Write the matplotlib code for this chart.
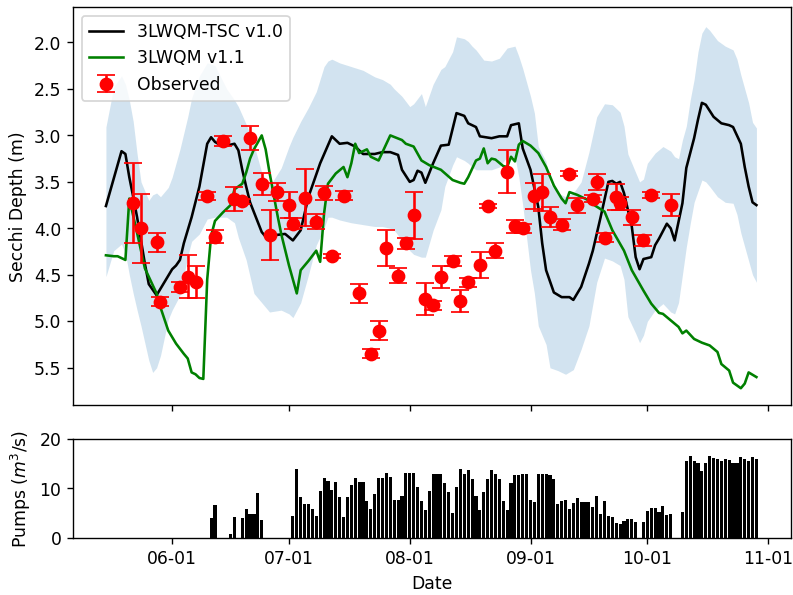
import numpy as np
import pandas as pd
import matplotlib
matplotlib.use("Agg")
import matplotlib.pyplot as plt
import matplotlib.dates as mdates

YEAR = "2019-"

# 3LWQM-TSC v1.0 (black)
tsc_days = ["05-15", "05-19", "05-20", "05-21", "05-22", "05-23", "05-24", "05-25", "05-26", "05-28",
            "05-29", "05-31", "06-01", "06-02", "06-03", "06-04", "06-06", "06-08", "06-10", "06-11",
            "06-12", "06-14", "06-16", "06-17", "06-18", "06-19", "06-20", "06-21", "06-24", "06-25",
            "06-28", "06-30", "07-02", "07-04", "07-06", "07-09", "07-12", "07-14", "07-16", "07-18",
            "07-20", "07-23", "07-25", "07-27", "07-29", "07-30", "08-01", "08-02", "08-03", "08-04",
            "08-05", "08-07", "08-09", "08-11", "08-13", "08-15", "08-16", "08-18", "08-19", "08-22",
            "08-24", "08-26", "08-27", "08-29", "08-30", "09-01", "09-03", "09-04", "09-05", "09-07",
            "09-09", "09-11", "09-12", "09-14", "09-16", "09-17", "09-19", "09-21", "09-22", "09-23",
            "09-24", "09-25", "09-27", "09-28", "09-29", "09-30", "10-02", "10-03", "10-04", "10-06",
            "10-07", "10-08", "10-10", "10-11", "10-13", "10-14", "10-15", "10-16", "10-18", "10-20",
            "10-22", "10-23", "10-25", "10-26", "10-27", "10-28", "10-29"]
tsc_vals = [3.76, 3.17, 3.20, 3.45, 3.66, 3.88, 4.13, 4.38, 4.60, 4.72,
            4.65, 4.51, 4.44, 4.40, 4.34, 4.16, 3.88, 3.55, 3.09, 3.02,
            3.07, 3.12, 3.10, 3.09, 3.16, 3.37, 3.55, 3.72, 4.04, 4.09,
            4.07, 4.06, 4.13, 4.02, 3.66, 3.30, 3.01, 3.09, 3.08, 3.12,
            3.20, 3.20, 3.18, 3.18, 3.21, 3.37, 3.50, 3.48, 3.38, 3.40,
            3.51, 3.30, 3.11, 3.10, 2.76, 2.79, 2.87, 2.91, 3.01, 3.03,
            3.01, 3.01, 2.89, 2.87, 3.14, 3.37, 3.77, 4.16, 4.45, 4.69,
            4.74, 4.74, 4.77, 4.63, 4.38, 4.24, 3.88, 3.50, 3.49, 3.52,
            3.50, 3.62, 3.98, 4.31, 4.44, 4.33, 4.31, 4.18, 4.11, 3.95,
            4.00, 4.13, 3.73, 3.35, 3.03, 2.83, 2.65, 2.67, 2.80, 2.87,
            2.89, 2.91, 3.09, 3.34, 3.55, 3.72, 3.75]

# 3LWQM v1.1 (green)
v11_days = ["05-15", "05-17", "05-18", "05-20", "05-21", "05-23", "05-25", "05-28", "05-29", "05-31",
            "06-02", "06-04", "06-05", "06-06", "06-07", "06-08", "06-09", "06-10", "06-11", "06-12",
            "06-14", "06-16", "06-17", "06-19", "06-20", "06-21", "06-22", "06-24", "06-25", "06-26",
            "06-28", "06-29", "07-01", "07-03", "07-04", "07-06", "07-08", "07-09", "07-10", "07-11",
            "07-13", "07-15", "07-16", "07-17", "07-18", "07-19", "07-21", "07-22", "07-24", "07-27",
            "07-30", "07-31", "08-02", "08-04", "08-06", "08-09", "08-12", "08-14", "08-15", "08-16",
            "08-18", "08-19", "08-20", "08-21", "08-22", "08-23", "08-25", "08-26", "08-27", "08-28",
            "08-29", "08-30", "09-01", "09-03", "09-05", "09-07", "09-09", "09-10", "09-11", "09-13",
            "09-14", "09-16", "09-17", "09-20", "09-22", "09-25", "09-27", "09-30", "10-02", "10-04",
            "10-05", "10-07", "10-09", "10-10", "10-11", "10-13", "10-15", "10-17", "10-19", "10-20",
            "10-22", "10-23", "10-25", "10-26", "10-27", "10-29"]
v11_vals = [4.29, 4.30, 4.30, 4.34, 3.68, 4.05, 4.43, 4.70, 4.85, 5.10,
            5.24, 5.35, 5.40, 5.55, 5.57, 5.61, 5.62, 4.55, 4.08, 3.92,
            3.83, 3.75, 3.58, 3.52, 3.40, 3.25, 3.15, 3.00, 3.15, 3.40,
            3.85, 4.06, 4.40, 4.70, 4.45, 4.35, 4.24, 4.36, 3.84, 3.52,
            3.41, 3.34, 3.45, 3.30, 3.09, 3.19, 3.15, 3.23, 3.27, 3.00,
            3.05, 3.09, 3.12, 3.27, 3.32, 3.37, 3.48, 3.51, 3.52, 3.45,
            3.27, 3.25, 3.14, 3.30, 3.25, 3.26, 3.33, 3.34, 3.23, 3.28,
            3.10, 3.06, 3.11, 3.19, 3.34, 3.54, 3.68, 3.73, 3.61, 3.64,
            3.66, 3.70, 3.74, 3.82, 4.02, 4.24, 4.45, 4.67, 4.81, 4.91,
            4.92, 4.99, 5.06, 5.13, 5.10, 5.19, 5.23, 5.26, 5.33, 5.46,
            5.53, 5.66, 5.72, 5.67, 5.55, 5.60]

# uncertainty band
band_days = ["05-15", "05-17", "05-19", "05-20", "05-21", "05-22", "05-23", "05-24", "05-26", "05-27",
             "05-28", "05-29", "05-31", "06-01", "06-03", "06-05", "06-06", "06-08", "06-10", "06-12",
             "06-15", "06-17", "06-18", "06-20", "06-22", "06-24", "06-26", "06-29", "07-01", "07-02",
             "07-04", "07-06", "07-08", "07-10", "07-11", "07-12", "07-14", "07-17", "07-20", "07-23",
             "07-25", "07-27", "07-28", "07-30", "08-01", "08-02", "08-04", "08-05", "08-07", "08-09",
             "08-10", "08-12", "08-13", "08-15", "08-16", "08-17", "08-18", "08-20", "08-22", "08-24",
             "08-26", "08-28", "08-29", "08-30", "08-31", "09-01", "09-02", "09-03", "09-05", "09-06",
             "09-08", "09-10", "09-12", "09-14", "09-16", "09-18", "09-20", "09-22", "09-24", "09-25",
             "09-26", "09-28", "09-29", "09-30", "10-01", "10-03", "10-05", "10-07", "10-08", "10-09",
             "10-10", "10-11", "10-12", "10-13", "10-14", "10-15", "10-16", "10-17", "10-19", "10-21",
             "10-23", "10-24", "10-25", "10-26", "10-27", "10-28", "10-29"]
band_top = [2.91, 2.48, 2.36, 2.45, 2.62, 2.85, 3.20, 3.50, 3.70, 3.64,
            3.62, 3.66, 3.56, 3.45, 3.15, 2.80, 2.60, 2.36, 2.22, 2.25,
            2.50, 2.62, 2.69, 2.88, 3.10, 3.40, 3.55, 3.35, 3.12, 3.02,
            2.85, 2.70, 2.53, 2.26, 2.20, 2.18, 2.22, 2.26, 2.30, 2.37,
            2.40, 2.45, 2.50, 2.58, 2.69, 2.66, 2.55, 2.69, 2.45, 2.29,
            2.26, 2.10, 1.94, 1.96, 1.99, 2.04, 2.08, 2.19, 2.20, 2.17,
            2.06, 2.04, 2.15, 2.28, 2.43, 2.58, 2.76, 3.12, 3.28, 3.52,
            3.62, 3.66, 3.62, 3.50, 3.18, 2.80, 2.66, 2.67, 2.75, 2.90,
            3.20, 3.40, 3.50, 3.47, 3.30, 3.19, 3.12, 3.17, 3.23, 3.25,
            3.05, 2.90, 2.62, 2.40, 2.10, 1.90, 1.83, 1.87, 1.98, 2.04,
            2.08, 2.18, 2.35, 2.50, 2.65, 2.86, 2.92]
band_bot = [4.52, 4.24, 4.17, 4.27, 4.50, 4.70, 4.88, 5.05, 5.42, 5.55,
            5.50, 5.37, 4.98, 4.88, 4.72, 4.30, 4.14, 4.06, 3.90, 3.88,
            3.88, 3.94, 4.10, 4.34, 4.70, 4.80, 4.90, 4.88, 4.92, 4.96,
            4.80, 4.50, 4.18, 4.00, 3.88, 3.88, 3.91, 3.94, 3.96, 3.98,
            3.98, 4.00, 4.02, 4.13, 4.24, 4.28, 4.31, 4.31, 4.02, 3.80,
            3.55, 3.32, 3.23, 3.27, 3.30, 3.34, 3.37, 3.37, 3.37, 3.34,
            3.23, 3.23, 3.45, 3.75, 4.10, 4.45, 4.70, 5.05, 5.25, 5.50,
            5.53, 5.57, 5.52, 5.30, 5.05, 4.58, 4.32, 4.35, 4.40, 4.55,
            4.95, 5.13, 5.23, 5.15, 5.00, 4.88, 4.81, 4.90, 4.92, 4.80,
            4.50, 4.20, 3.95, 3.72, 3.60, 3.48, 3.50, 3.55, 3.66, 3.72,
            3.73, 3.85, 4.05, 4.20, 4.35, 4.50, 4.58]

# observed Secchi depth
obs_days = ["05-22", "05-24", "05-28", "05-29", "06-03", "06-05", "06-07", "06-10", "06-12", "06-14",
            "06-17", "06-19", "06-21", "06-24", "06-26", "06-28", "07-01", "07-02", "07-05", "07-08",
            "07-10", "07-12", "07-15", "07-19", "07-22", "07-24", "07-26", "07-29", "07-31", "08-02",
            "08-05", "08-07", "08-09", "08-12", "08-14", "08-16", "08-19", "08-21", "08-23", "08-26",
            "08-28", "08-30", "09-02", "09-04", "09-06", "09-09", "09-11", "09-13", "09-17", "09-18",
            "09-20", "09-23", "09-24", "09-27", "09-30", "10-02", "10-07"]
obs_vals = [3.73, 4.00, 4.15, 4.79, 4.63, 4.52, 4.58, 3.65, 4.09, 3.06,
            3.68, 3.71, 3.03, 3.52, 4.07, 3.61, 3.75, 3.95, 3.67, 3.93,
            3.62, 4.30, 3.65, 4.70, 5.35, 5.10, 4.21, 4.51, 4.16, 3.86,
            4.76, 4.83, 4.52, 4.35, 4.78, 4.58, 4.39, 3.76, 4.24, 3.39,
            3.98, 4.00, 3.65, 3.61, 3.88, 3.96, 3.41, 3.75, 3.68, 3.50,
            4.10, 3.66, 3.73, 3.88, 4.13, 3.64, 3.75]
obs_err = [0.43, 0.37, 0.10, 0.05, 0.05, 0.23, 0.17, 0.04, 0.07, 0.05,
           0.13, 0.03, 0.13, 0.12, 0.27, 0.10, 0.14, 0.06, 0.31, 0.08,
           0.08, 0.02, 0.05, 0.10, 0.05, 0.10, 0.19, 0.08, 0.06, 0.25,
           0.17, 0.05, 0.12, 0.05, 0.12, 0.05, 0.14, 0.02, 0.08, 0.23,
           0.07, 0.05, 0.14, 0.20, 0.11, 0.06, 0.03, 0.08, 0.04, 0.09,
           0.05, 0.14, 0.07, 0.08, 0.06, 0.03, 0.12]

# pump discharge
pump_days = ["06-11", "06-12", "06-16", "06-17", "06-19", "06-20", "06-21", "06-22", "06-23", "06-24",
             "07-02", "07-03", "07-04", "07-05", "07-06", "07-07", "07-08", "07-09", "07-10", "07-11",
             "07-12", "07-13", "07-14", "07-15", "07-16", "07-17", "07-18", "07-19", "07-20", "07-21",
             "07-22", "07-23", "07-24", "07-25", "07-26", "07-27", "07-28", "07-29", "07-30", "07-31",
             "08-01", "08-02", "08-03", "08-04", "08-05", "08-06", "08-07", "08-08", "08-09", "08-10",
             "08-11", "08-12", "08-13", "08-14", "08-15", "08-16", "08-17", "08-18", "08-19", "08-20",
             "08-21", "08-22", "08-23", "08-24", "08-25", "08-26", "08-27", "08-28", "08-29", "08-30",
             "08-31", "09-01", "09-02", "09-03", "09-04", "09-05", "09-06", "09-07", "09-08", "09-09",
             "09-10", "09-11", "09-12", "09-13", "09-14", "09-15", "09-16", "09-17", "09-18", "09-19",
             "09-20", "09-21", "09-22", "09-23", "09-24", "09-25", "09-26", "09-27", "09-28", "09-30",
             "10-01", "10-02", "10-03", "10-04", "10-05", "10-06", "10-07", "10-10", "10-11", "10-12",
             "10-13", "10-14", "10-15", "10-16", "10-17", "10-18", "10-19", "10-20", "10-21", "10-22",
             "10-23", "10-24", "10-25", "10-26", "10-27", "10-28", "10-29"]
pump_vals = [4.1, 6.7, 0.8, 4.2, 4.1, 5.9, 4.9, 4.9, 9.0, 3.6,
             4.5, 14.0, 8.2, 6.9, 6.9, 5.9, 4.5, 9.4, 12.2, 11.5,
             9.7, 11.3, 8.3, 4.3, 8.3, 10.8, 12.1, 11.3, 11.3, 7.5,
             5.9, 8.8, 12.2, 12.2, 13.2, 12.4, 7.6, 7.6, 8.5, 13.2,
             13.2, 13.2, 10.2, 7.5, 5.6, 9.5, 13.0, 13.0, 13.0, 11.1,
             9.2, 5.1, 10.2, 13.9, 12.9, 13.7, 12.0, 8.5, 5.7, 9.3,
             11.9, 13.7, 13.0, 12.0, 7.4, 5.7, 11.1, 12.8, 12.8, 13.0,
             13.0, 7.6, 7.3, 12.9, 13.0, 13.0, 12.8, 12.0, 6.8, 7.4,
             7.6, 5.9, 7.1, 8.0, 7.2, 7.2, 7.2, 6.3, 8.4, 4.9,
             7.5, 4.4, 4.2, 3.0, 2.7, 3.4, 3.7, 3.7, 3.2, 3.2,
             5.4, 6.1, 6.1, 5.3, 6.4, 4.6, 4.9, 5.2, 15.6, 16.6,
             15.6, 15.2, 13.6, 15.1, 16.6, 16.1, 16.0, 15.6, 16.0, 15.7,
             15.1, 15.2, 16.3, 16.0, 15.6, 16.4, 15.9]


def to_dates(days):
    return pd.to_datetime([YEAR + d for d in days])


fig = plt.figure(figsize=(6.4, 4.8), dpi=124)
ax1 = fig.add_axes([0.0924, 0.3193, 0.9038, 0.6684])
ax2 = fig.add_axes([0.0924, 0.0963, 0.9038, 0.1654], sharex=ax1)

ax1.fill_between(to_dates(band_days), band_top, band_bot, color="C0", alpha=0.2, lw=0)
ax1.plot(to_dates(tsc_days), tsc_vals, color="black", label="3LWQM-TSC v1.0")
ax1.plot(to_dates(v11_days), v11_vals, color="green", label="3LWQM v1.1")
ax1.errorbar(to_dates(obs_days), obs_vals, yerr=obs_err, fmt="o", color="red",
             ms=7, capsize=5, label="Observed")
ax1.set_ylim(5.90, 1.62)
ax1.set_ylabel("Secchi Depth (m)")
ax1.legend(loc="upper left")
ax1.tick_params(labelbottom=False)

ax2.bar(to_dates(pump_days), pump_vals, width=0.8, color="black")
ax2.set_ylim(0, 20)
ax2.set_yticks([0, 10, 20])
ax2.set_ylabel("Pumps ($m^3$/s)")
ax2.set_xlabel("Date")
ax2.xaxis.set_major_locator(mdates.MonthLocator())
ax2.xaxis.set_major_formatter(mdates.DateFormatter("%m-%d"))

fig.savefig("out.png", dpi=124)
